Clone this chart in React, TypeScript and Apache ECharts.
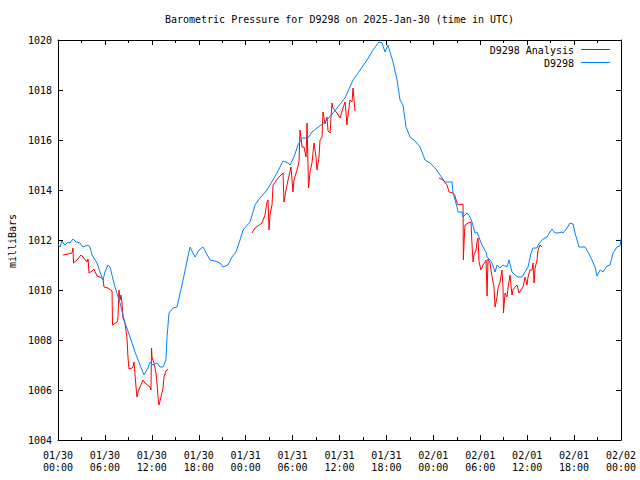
import React, { useEffect, useRef } from "react";
import * as echarts from "echarts";

const titleText = "Barometric Pressure for D9298 on 2025-Jan-30 (time in UTC)";
const yAxisTitle = "milliBars";
const analysisName = "D9298 Analysis";
const stationName = "D9298";

const xTickLabels = [
  "01/30\n00:00", "01/30\n06:00", "01/30\n12:00", "01/30\n18:00",
  "01/31\n00:00", "01/31\n06:00", "01/31\n12:00", "01/31\n18:00",
  "02/01\n00:00", "02/01\n06:00", "02/01\n12:00", "02/01\n18:00",
  "02/02\n00:00",
];
const xMin = 0;
const xMax = 72;
const xStep = 6;
const yMin = 1004;
const yMax = 1020;
const yStep = 2;

// [hours since 01/30 00:00 UTC, millibars]
const stationData: [number, number][] = [
  [0.0, 1011.84], [0.26, 1011.72], [0.51, 1011.96], [0.64, 1011.88], [0.9, 1011.8],
  [1.28, 1011.92], [1.53, 1011.88], [1.92, 1012.04], [2.3, 1011.92], [2.81, 1011.88],
  [3.2, 1011.72], [3.84, 1011.8], [4.09, 1011.72], [4.35, 1011.4], [4.99, 1011.08],
  [5.37, 1010.72], [5.76, 1010.4], [6.01, 1010.72], [6.39, 1011.0], [6.65, 1010.92],
  [7.29, 1010.12], [7.93, 1009.48], [8.57, 1008.68], [9.21, 1008.12], [9.85, 1007.52],
  [10.49, 1007.0], [11.0, 1006.6], [11.51, 1006.88], [11.77, 1007.12], [12.15, 1007.0],
  [12.66, 1007.08], [13.04, 1006.92], [13.43, 1006.92], [13.81, 1007.2], [13.94, 1008.12],
  [14.2, 1009.08], [14.71, 1009.28], [15.22, 1009.32], [15.99, 1010.4], [16.88, 1011.72],
  [17.52, 1011.32], [18.03, 1011.6], [18.54, 1011.72], [19.44, 1011.2], [20.08, 1011.16],
  [20.72, 1011.08], [21.1, 1010.92], [21.74, 1011.0], [22.25, 1011.32], [22.76, 1011.52],
  [23.28, 1012.0], [23.66, 1012.4], [24.56, 1012.72], [25.2, 1013.4], [25.83, 1013.68],
  [26.73, 1014.0], [27.11, 1014.2], [28.01, 1014.68], [28.78, 1015.16], [29.42, 1015.08],
  [29.67, 1015.0], [30.18, 1015.32], [30.69, 1015.8], [31.21, 1016.08], [31.97, 1016.08],
  [32.48, 1016.32], [33.12, 1016.48], [34.15, 1016.72], [35.17, 1017.08], [36.71, 1017.68],
  [37.73, 1018.4], [38.37, 1018.68], [39.52, 1019.2], [40.29, 1019.6], [41.05, 1019.92],
  [41.44, 1019.88], [41.82, 1019.52], [42.2, 1019.8], [42.46, 1019.52], [42.84, 1019.12],
  [43.36, 1018.4], [43.74, 1017.6], [44.12, 1017.4], [44.51, 1016.52], [45.02, 1016.12],
  [45.66, 1015.96], [46.3, 1015.72], [46.94, 1015.2], [47.58, 1015.08], [48.22, 1014.88],
  [48.85, 1014.6], [49.49, 1014.32], [50.39, 1014.32], [50.52, 1013.88], [51.03, 1013.32],
  [51.16, 1013.12], [51.67, 1013.12], [51.8, 1012.92], [52.31, 1013.08], [52.69, 1012.92],
  [52.95, 1012.72], [53.33, 1012.28], [53.59, 1012.32], [53.97, 1012.0], [54.35, 1011.72],
  [54.74, 1011.52], [54.87, 1011.32], [55.25, 1011.2], [55.51, 1011.08], [55.89, 1010.72],
  [56.15, 1011.0], [56.53, 1010.88], [56.91, 1011.0], [57.42, 1010.92], [57.68, 1011.2],
  [58.06, 1010.72], [58.45, 1010.6], [58.83, 1010.52], [59.34, 1010.52], [59.73, 1010.72],
  [60.11, 1010.92], [60.5, 1011.48], [60.75, 1011.68], [61.26, 1011.68], [61.39, 1011.8],
  [62.03, 1012.04], [62.54, 1012.12], [62.92, 1012.32], [63.18, 1012.44], [63.56, 1012.28],
  [63.95, 1012.28], [64.46, 1012.32], [64.58, 1012.28], [65.1, 1012.48], [65.48, 1012.68],
  [65.87, 1012.64], [66.12, 1012.28], [66.63, 1011.72], [67.4, 1011.72], [67.78, 1011.52],
  [68.29, 1011.2], [68.68, 1010.92], [68.93, 1010.56], [69.32, 1010.8], [69.7, 1010.72],
  [70.21, 1010.96], [70.6, 1011.0], [70.98, 1011.48], [71.49, 1011.72], [71.88, 1011.76],
  [72.0, 1012.04],
];

const analysisDay1: [number, number][] = [
  [0.64, 1011.4], [1.28, 1011.44], [1.79, 1011.48], [1.92, 1011.68], [1.98, 1011.08],
  [2.43, 1011.2], [2.94, 1011.4], [3.2, 1011.32], [3.71, 1011.12], [3.84, 1011.24],
  [3.9, 1011.0], [3.96, 1010.68], [4.35, 1010.76], [4.6, 1010.84], [4.99, 1010.56],
  [5.37, 1010.52], [5.76, 1010.44], [5.88, 1010.12], [6.39, 1010.08], [6.91, 1009.96],
  [6.97, 1008.6], [7.55, 1008.72], [7.67, 1008.88], [7.8, 1010.0], [7.93, 1009.6],
  [8.06, 1009.8], [8.19, 1009.48], [8.31, 1008.88], [8.57, 1008.68], [8.82, 1008.08],
  [8.95, 1007.32], [9.08, 1006.84], [9.46, 1006.88], [9.59, 1006.92], [9.72, 1007.12],
  [9.98, 1006.12], [10.1, 1005.72], [10.23, 1005.92], [10.87, 1006.4], [11.13, 1006.28],
  [11.77, 1006.12], [11.89, 1006.0], [11.96, 1007.68], [12.02, 1007.32], [12.28, 1007.08],
  [12.53, 1006.68], [12.66, 1006.28], [12.79, 1005.72], [12.92, 1005.4], [13.17, 1005.72],
  [13.43, 1006.08], [13.56, 1006.52], [13.81, 1006.76], [14.07, 1006.84],
];

const analysisDay2: [number, number][] = [
  [24.81, 1012.28], [25.2, 1012.48], [26.09, 1012.68], [26.47, 1013.0], [26.73, 1013.52],
  [26.86, 1013.6], [26.99, 1012.4], [27.11, 1013.0], [27.37, 1013.4], [27.5, 1014.2],
  [28.14, 1014.48], [28.78, 1014.68], [28.9, 1013.52], [29.16, 1014.0], [29.42, 1014.4],
  [29.8, 1014.92], [30.05, 1013.92], [30.18, 1014.4], [30.57, 1014.8], [30.82, 1015.12],
  [30.95, 1016.4], [31.21, 1015.72], [31.46, 1015.72], [31.72, 1015.32], [31.85, 1016.68],
  [32.04, 1014.08], [32.23, 1014.72], [32.48, 1015.08], [32.74, 1015.88], [33.0, 1015.32],
  [33.12, 1014.8], [33.38, 1015.32], [33.51, 1016.0], [33.76, 1016.12], [33.89, 1017.12],
  [34.15, 1016.64], [34.4, 1016.92], [34.53, 1016.36], [34.79, 1016.28], [35.04, 1017.48],
  [35.17, 1017.28], [35.68, 1017.08], [36.07, 1016.88], [36.45, 1017.28], [36.71, 1017.52],
  [36.96, 1016.6], [37.09, 1017.0], [37.34, 1017.6], [37.6, 1017.52], [37.73, 1018.08],
  [37.98, 1017.16],
];

const analysisDay3: [number, number][] = [
  [48.73, 1014.48], [49.24, 1014.4], [49.75, 1014.2], [50.01, 1013.92], [50.52, 1013.88],
  [50.77, 1013.76], [51.03, 1013.48], [51.16, 1013.4], [51.8, 1013.44], [51.84, 1011.2],
  [51.93, 1011.92], [52.05, 1012.6], [52.44, 1012.68], [52.82, 1012.72], [52.95, 1011.8],
  [53.08, 1011.12], [53.2, 1011.4], [53.46, 1011.6], [53.59, 1011.92], [53.72, 1012.08],
  [53.84, 1011.12], [54.1, 1010.8], [54.35, 1011.0], [54.61, 1011.12], [54.74, 1011.2],
  [54.87, 1009.76], [54.99, 1011.24], [55.25, 1011.08], [55.51, 1010.52], [55.76, 1010.12],
  [55.89, 1009.32], [56.15, 1009.72], [56.27, 1010.08], [56.53, 1010.32], [56.78, 1010.8],
  [56.91, 1010.12], [56.97, 1009.08], [57.17, 1009.88], [57.42, 1009.72], [57.55, 1010.08],
  [57.81, 1010.6], [58.06, 1009.8], [58.19, 1010.0], [58.45, 1010.12], [58.7, 1010.2],
  [58.96, 1009.88], [59.21, 1010.0], [59.47, 1010.12], [59.73, 1010.52], [59.98, 1010.2],
  [60.11, 1010.52], [60.37, 1010.8], [60.62, 1010.8], [60.75, 1011.08], [60.88, 1010.28],
  [61.01, 1010.88], [61.26, 1011.2], [61.39, 1011.6], [61.64, 1011.8], [61.9, 1011.72],
];

const RED = "#ff0000";
const BLUE = "#0080ff";
const FONT = '"DejaVu Sans Mono", "Liberation Mono", monospace';

export default function App() {
  const ref = useRef<HTMLDivElement>(null);

  useEffect(() => {
    if (!ref.current) return;
    const chart = echarts.init(ref.current, undefined, { renderer: "svg" });

    const tickStyle = { color: "#000", width: 1 };
    const xAxisBase = {
      type: "value" as const,
      min: xMin,
      max: xMax,
      interval: xStep,
      splitLine: { show: false },
      axisLine: { show: true, onZero: false, lineStyle: tickStyle },
      axisTick: { show: true, inside: true, length: 5, lineStyle: tickStyle },
      minorTick: { show: true, splitNumber: 2, length: 3, lineStyle: tickStyle },
    };
    const yAxisBase = {
      type: "value" as const,
      min: yMin,
      max: yMax,
      interval: yStep,
      splitLine: { show: false },
      axisLine: { show: true, onZero: false, lineStyle: tickStyle },
      axisTick: { show: true, inside: true, length: 5, lineStyle: tickStyle },
    };

    const lineSeries = (name: string, data: [number, number][], color: string) => ({
      name,
      type: "line" as const,
      data,
      showSymbol: false,
      symbol: "none",
      lineStyle: { color, width: 1 },
      itemStyle: { color },
      silent: true,
    });

    chart.setOption({
      animation: false,
      backgroundColor: "#fff",
      grid: { left: 58, right: 19, top: 40, bottom: 40, containLabel: false },
      xAxis: [
        {
          ...xAxisBase,
          position: "bottom",
          axisLabel: {
            show: true,
            showMinLabel: true,
            showMaxLabel: true,
            margin: 9,
            color: "#000",
            fontFamily: FONT,
            fontSize: 10,
            lineHeight: 12,
            formatter: (v: number) => xTickLabels[Math.round((v - xMin) / xStep)] ?? "",
          },
        },
        { ...xAxisBase, position: "top", axisLabel: { show: false } },
      ],
      yAxis: [
        {
          ...yAxisBase,
          position: "left",
          axisLabel: {
            show: true,
            margin: 6,
            color: "#000",
            fontFamily: FONT,
            fontSize: 10,
            showMinLabel: true,
            showMaxLabel: true,
            formatter: (v: number) => String(v),
          },
        },
        { ...yAxisBase, position: "right", axisLabel: { show: false } },
      ],
      series: [
        lineSeries(analysisName, analysisDay1, RED),
        lineSeries(analysisName, analysisDay2, RED),
        lineSeries(analysisName, analysisDay3, RED),
        lineSeries(stationName, stationData, BLUE),
      ],
      graphic: [
        {
          type: "text",
          x: 339.5,
          y: 19,
          style: {
            text: titleText,
            fill: "#000",
            font: `10px ${FONT}`,
            textAlign: "center",
            textVerticalAlign: "middle",
          },
        },
        {
          type: "text",
          x: 12,
          y: 241,
          rotation: Math.PI / 2,
          style: {
            text: yAxisTitle,
            fill: "#000",
            font: `10px ${FONT}`,
            textAlign: "center",
            textVerticalAlign: "middle",
          },
        },
        {
          type: "text",
          x: 574,
          y: 50,
          style: {
            text: analysisName,
            fill: "#000",
            font: `10px ${FONT}`,
            textAlign: "right",
            textVerticalAlign: "middle",
          },
        },
        {
          type: "line",
          shape: { x1: 581, y1: 49.5, x2: 610, y2: 49.5 },
          style: { stroke: RED, lineWidth: 1 },
        },
        {
          type: "text",
          x: 574,
          y: 63,
          style: {
            text: stationName,
            fill: "#000",
            font: `10px ${FONT}`,
            textAlign: "right",
            textVerticalAlign: "middle",
          },
        },
        {
          type: "line",
          shape: { x1: 581, y1: 62.5, x2: 610, y2: 62.5 },
          style: { stroke: BLUE, lineWidth: 1 },
        },
      ],
    });

    return () => chart.dispose();
  }, []);

  return (
    <div
      ref={ref}
      style={{ position: "fixed", left: 0, top: 0, width: 640, height: 480, background: "#fff" }}
    />
  );
}
